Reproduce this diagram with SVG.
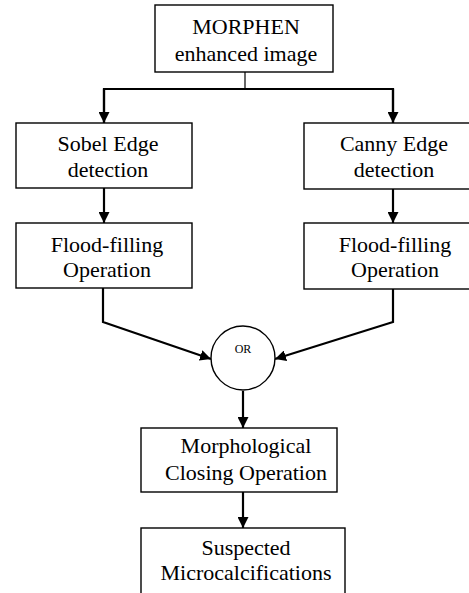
<svg xmlns="http://www.w3.org/2000/svg" width="469" height="593" viewBox="0 0 469 593">
<style>
.box{fill:#fff;stroke:#000;stroke-width:1.4}
.t{font-family:"Liberation Serif","Times New Roman",serif;font-size:22px;fill:#000;text-anchor:middle}
.c{fill:none;stroke:#000;stroke-width:2.2}
.thin{fill:none;stroke:#000;stroke-width:1.2}
</style>
<defs>
<marker id="ah" viewBox="0 0 10 10" refX="10" refY="5" markerWidth="5" markerHeight="5" orient="auto" markerUnits="strokeWidth">
<path d="M0,0 L10,5 L0,10 z" fill="#000"/>
</marker>
</defs>
<rect width="469" height="593" fill="#fff"/>
<g id="connectors">
<line class="thin" x1="245" y1="72" x2="245" y2="89"/>
<polyline class="c" points="104,123 104,89 393,89 393,123" style="marker-end:none"/>
<line class="c" x1="104" y1="89" x2="104" y2="123" marker-end="url(#ah)"/>
<line class="c" x1="393" y1="89" x2="393" y2="123" marker-end="url(#ah)"/>
<line class="c" x1="104" y1="188" x2="104" y2="223" marker-end="url(#ah)"/>
<line class="c" x1="393" y1="189" x2="393" y2="223" marker-end="url(#ah)"/>
<polyline class="c" points="103,288 103,322 211,359" marker-end="url(#ah)"/>
<polyline class="c" points="393,289 393,322 275,359" marker-end="url(#ah)"/>
<line class="c" x1="243" y1="391" x2="243" y2="428" marker-end="url(#ah)"/>
<line class="c" x1="243" y1="492" x2="243" y2="528" marker-end="url(#ah)"/>
</g>
<g id="morphen">
<rect class="box" x="155" y="5" width="178" height="67"/>
<text class="t" x="246" y="34">MORPHEN</text>
<text class="t" x="246" y="61">enhanced image</text>
</g>
<g id="sobel">
<rect class="box" x="16" y="123" width="176" height="65"/>
<text class="t" x="108" y="151">Sobel Edge</text>
<text class="t" x="108" y="177">detection</text>
</g>
<g id="canny">
<rect class="box" x="304" y="123" width="180" height="66"/>
<text class="t" x="394" y="151">Canny Edge</text>
<text class="t" x="394" y="177">detection</text>
</g>
<g id="flood-left">
<rect class="box" x="16" y="223" width="176" height="65"/>
<text class="t" x="107" y="252">Flood-filling</text>
<text class="t" x="107" y="277">Operation</text>
</g>
<g id="flood-right">
<rect class="box" x="304" y="223" width="180" height="66"/>
<text class="t" x="395" y="252">Flood-filling</text>
<text class="t" x="395" y="277">Operation</text>
</g>
<g id="or">
<circle cx="243" cy="358" r="32" fill="#fff" stroke="#000" stroke-width="1.4"/>
<text x="243" y="353" font-family="Liberation Serif, serif" font-size="12" text-anchor="middle">OR</text>
</g>
<g id="closing">
<rect class="box" x="141" y="428" width="196" height="64"/>
<text class="t" x="246" y="453">Morphological</text>
<text class="t" x="246" y="480">Closing Operation</text>
</g>
<g id="suspected">
<rect class="box" x="141" y="528" width="204" height="70"/>
<text class="t" x="246" y="555">Suspected</text>
<text class="t" x="246" y="580">Microcalcifications</text>
</g>
</svg>
